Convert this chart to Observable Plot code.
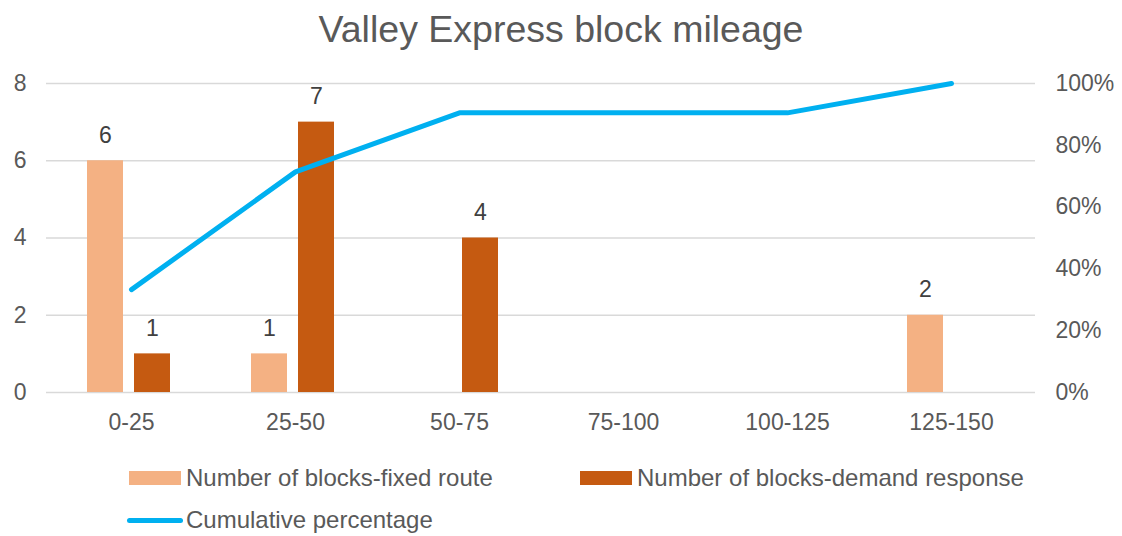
<!DOCTYPE html>
<html>
<head>
<meta charset="utf-8">
<script src="https://cdn.jsdelivr.net/npm/d3@7"></script>
<script src="https://cdn.jsdelivr.net/npm/@observablehq/plot@0.6"></script>
<style>
  html, body { margin: 0; padding: 0; background: #fff; }
  body { width: 1122px; height: 536px; overflow: hidden; position: relative; font-family: "Liberation Sans", Arial, sans-serif; }
  #title { height: 60px; line-height: 58px; text-align: center; font-size: 37.5px; color: #595959; }
  #chart svg { display: block; }
  .leg { position: absolute; display: flex; align-items: center; font-size: 24px; color: #595959; white-space: nowrap; }
  .sw { width: 52px; height: 14px; margin-right: 5px; }
  .ln { width: 56px; height: 5px; border-radius: 3px; background: #00B0F0; margin-right: 3px; }
</style>
</head>
<body>
<div id="title">Valley Express block mileage</div>
<div id="chart"></div>
<div id="legend"></div>
<script>
const categories = ["0-25", "25-50", "50-75", "75-100", "100-125", "125-150"];
const fixedRoute = [6, 1, 0, 0, 0, 2];
const demandResponse = [1, 7, 4, 0, 0, 0];
const cumulativePct = [33.3, 71.4, 90.5, 90.5, 90.5, 100];
const leftTicks = [0, 2, 4, 6, 8];
const rightTicksPct = [0, 20, 40, 60, 80, 100];

const seriesNames = ["Number of blocks-fixed route", "Number of blocks-demand response", "Cumulative percentage"];
const colors = ["#F4B183", "#C55A11", "#00B0F0"];

const yMax = 8;
const fixedData = categories.map((c, i) => ({cat: c, v: fixedRoute[i]}));
const demandData = categories.map((c, i) => ({cat: c, v: demandResponse[i]}));
const cumData = categories.map((c, i) => ({cat: c, p: cumulativePct[i], y: cumulativePct[i] / 100 * yMax}));

const chart = Plot.plot({
  width: 1122,
  height: 400,
  marginTop: 23,
  marginBottom: 68,
  marginLeft: 46,
  marginRight: 87,
  style: {fontFamily: "'Liberation Sans', Arial, sans-serif", fontSize: "23px", color: "#595959", background: "#fff"},
  x: {type: "band", domain: categories, padding: 0},
  y: {domain: [0, yMax]},
  marks: [
    Plot.ruleY(leftTicks, {stroke: "#d9d9d9", strokeWidth: 1.5}),
    Plot.barY(fixedData, {x: "cat", y: "v", fill: colors[0], insetLeft: 38, insetRight: 90}),
    Plot.barY(demandData, {x: "cat", y: "v", fill: colors[1], insetLeft: 85, insetRight: 43}),
    Plot.text(fixedData.filter(d => d.v > 0), {x: "cat", y: "v", text: d => String(d.v), dx: -26, dy: -18, lineAnchor: "bottom", fill: "#404040", fontSize: 23}),
    Plot.text(demandData.filter(d => d.v > 0), {x: "cat", y: "v", text: d => String(d.v), dx: 21, dy: -18, lineAnchor: "bottom", fill: "#404040", fontSize: 23}),
    Plot.lineY(cumData, {x: "cat", y: "y", stroke: colors[2], strokeWidth: 5, strokeLinecap: "round", strokeLinejoin: "round"}),
    Plot.axisX({tickSize: 0, tickPadding: 21, label: null, fontSize: 23}),
    Plot.axisY({anchor: "left", ticks: leftTicks, tickSize: 0, tickPadding: 20, label: null, fontSize: 23}),
    Plot.axisY({anchor: "right", ticks: rightTicksPct.map(p => p / 100 * yMax), tickFormat: d => Math.round(d / yMax * 100) + "%", tickSize: 0, tickPadding: 20, label: null, fontSize: 23})
  ]
});
document.getElementById("chart").appendChild(chart);

const legend = document.getElementById("legend");
const items = [
  {name: seriesNames[0], color: colors[0], type: "rect", left: 129, top: 478},
  {name: seriesNames[1], color: colors[1], type: "rect", left: 580, top: 478},
  {name: seriesNames[2], color: colors[2], type: "line", left: 127, top: 520}
];
items.forEach(it => {
  const d = document.createElement("div");
  d.className = "leg";
  d.style.left = it.left + "px";
  d.style.top = (it.top - 14) + "px";
  d.style.height = "28px";
  const s = document.createElement("span");
  if (it.type === "rect") { s.className = "sw"; s.style.background = it.color; }
  else { s.className = "ln"; }
  d.appendChild(s);
  const t = document.createElement("span");
  t.textContent = it.name;
  d.appendChild(t);
  legend.appendChild(d);
});
</script>
</body>
</html>
